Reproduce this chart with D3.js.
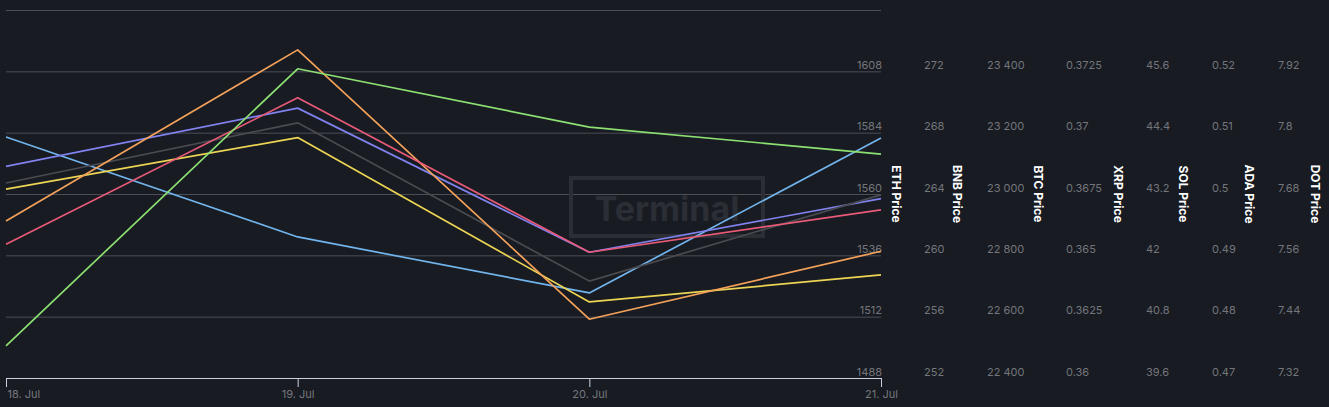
<!DOCTYPE html>
<html>
<head>
<meta charset="utf-8">
<script src="https://cdn.jsdelivr.net/npm/d3@7"></script>
<style>
  html, body { margin: 0; padding: 0; background: #181b22; }
  svg { display: block; font-family: Inter, "Noto Sans", sans-serif; }
</style>
</head>
<body>
<svg id="chart"></svg>
<script>
// dates (daily)
var dates = ["2022-07-18", "2022-07-19", "2022-07-20", "2022-07-21"];

// series values
var ethPrice = [1582.3, 1543.2, 1521.3, 1581.9];
var bnbPrice = [265.8, 269.6, 260.2, 263.7];
var btcPrice = [23036, 23232, 22716, 22997];
var xrpPrice = [0.3677, 0.3698, 0.3631, 0.3642];
var solPrice = [42.67, 46.02, 40.75, 42.08];
var adaPrice = [0.4918, 0.5157, 0.4905, 0.4974];
var dotPrice = [7.383, 7.925, 7.811, 7.758];

// axis ticks (last one has no label)
var ethTicks = [1488, 1512, 1536, 1560, 1584, 1608, 1632];
var bnbTicks = [252, 256, 260, 264, 268, 272, 276];
var btcTicks = [22400, 22600, 22800, 23000, 23200, 23400, 23600];
var xrpTicks = [0.36, 0.3625, 0.365, 0.3675, 0.37, 0.3725, 0.375];
var solTicks = [39.6, 40.8, 42, 43.2, 44.4, 45.6, 46.8];
var adaTicks = [0.47, 0.48, 0.49, 0.5, 0.51, 0.52, 0.53];
var dotTicks = [7.32, 7.44, 7.56, 7.68, 7.8, 7.92, 8.04];

var W = 1329, H = 407;
var plotL = 6, plotR = 881, plotT = 10, plotB = 378;

var svg = d3.select('#chart').attr('width', W).attr('height', H);

var parse = d3.utcParse('%Y-%m-%d');
var x = d3.scaleUtc()
  .domain([parse(dates[0]), parse(dates[dates.length - 1])])
  .range([plotL, plotR]);

var series = [
  { name: 'ETH Price', values: ethPrice, ticks: ethTicks, color: '#72b4ec', labelX: 882, titleX: 896, fmt: d3.format('d') },
  { name: 'BNB Price', values: bnbPrice, ticks: bnbTicks, color: '#8082ee', labelX: 924, titleX: 957, fmt: d3.format('d') },
  { name: 'BTC Price', values: btcPrice, ticks: btcTicks, color: '#4a4b50', labelX: 987, titleX: 1038, fmt: function(d) { return d3.format(',d')(d).replace(',', ' '); } },
  { name: 'XRP Price', values: xrpPrice, ticks: xrpTicks, color: '#ecd454', labelX: 1066, titleX: 1118, fmt: function(d) { return String(+d.toFixed(4)); } },
  { name: 'SOL Price', values: solPrice, ticks: solTicks, color: '#f4a25a', labelX: 1146, titleX: 1183, fmt: function(d) { return String(+d.toFixed(1)); } },
  { name: 'ADA Price', values: adaPrice, ticks: adaTicks, color: '#e85a78', labelX: 1212, titleX: 1249, fmt: function(d) { return String(+d.toFixed(2)); } },
  { name: 'DOT Price', values: dotPrice, ticks: dotTicks, color: '#8ce072', labelX: 1278, titleX: 1315, fmt: function(d) { return String(+d.toFixed(2)); } }
];

series.forEach(function(s) {
  s.y = d3.scaleLinear()
    .domain([s.ticks[0], s.ticks[s.ticks.length - 1]])
    .range([plotB, plotT]);
});

// gridlines from ETH axis
var eth = series[0];
svg.append('g')
  .attr('transform', 'translate(' + plotL + ',0)')
  .call(d3.axisRight(eth.y).tickValues(eth.ticks).tickSize(plotR - plotL).tickFormat(''))
  .call(function(g) {
    g.select('.domain').remove();
    g.selectAll('line').attr('stroke', '#4b4e55').attr('stroke-width', 1);
  });

// watermark
var wm = svg.append('g');
wm.append('rect')
  .attr('x', 571).attr('y', 178).attr('width', 192).attr('height', 58)
  .attr('fill', 'none').attr('stroke', '#2b2e35').attr('stroke-width', 4);
wm.append('text')
  .attr('x', 667).attr('y', 221)
  .attr('text-anchor', 'middle')
  .attr('font-size', 34).attr('font-weight', 700)
  .attr('fill', '#2b2e35')
  .text('Terminal');

// y axes: labels + titles
series.forEach(function(s, i) {
  var g = svg.append('g')
    .attr('transform', 'translate(' + s.labelX + ',0)')
    .call(d3.axisRight(s.y).tickValues(s.ticks.slice(0, -1)).tickSize(0).tickFormat(s.fmt));
  g.select('.domain').remove();
  g.selectAll('text')
    .attr('x', 0).attr('dy', -3)
    .attr('fill', '#74767c')
    .attr('font-size', 11)
    .attr('font-family', 'Inter, sans-serif')
    .attr('text-anchor', i === 0 ? 'end' : 'start');

  svg.append('text')
    .attr('transform', 'translate(' + (s.titleX - 4) + ',' + ((plotT + plotB) / 2) + ') rotate(90)')
    .attr('text-anchor', 'middle')
    .attr('font-size', 12)
    .attr('font-weight', 700)
    .attr('fill', '#ffffff')
    .text(s.name);
});

// lines
var line = d3.line()
  .x(function(d, i) { return x(parse(dates[i])); });

series.forEach(function(s) {
  line.y(function(d) { return s.y(d); });
  svg.append('path')
    .datum(s.values)
    .attr('d', line)
    .attr('fill', 'none')
    .attr('stroke', s.color)
    .attr('stroke-width', 1.7)
    .attr('stroke-linejoin', 'round');
});

// x axis
var xg = svg.append('g')
  .attr('transform', 'translate(0,' + plotB + ')')
  .call(d3.axisBottom(x).tickValues(dates.map(parse)).tickSize(9).tickSizeOuter(0)
    .tickFormat(d3.utcFormat('%-d. %b')));
xg.select('.domain').attr('stroke', '#c9d1e0').attr('d', 'M' + plotL + ',0.5H' + plotR);
xg.selectAll('line').attr('stroke', '#c9d1e0');
xg.selectAll('text')
  .attr('fill', '#76787e')
  .attr('font-size', 11)
  .attr('font-family', 'Inter, sans-serif')
  .attr('y', 12)
  .attr('text-anchor', function(d, i) { return i === 0 ? 'start' : 'middle'; })
  .attr('dx', function(d, i) { return i === 0 ? 1 : 0; });
</script>
</body>
</html>
